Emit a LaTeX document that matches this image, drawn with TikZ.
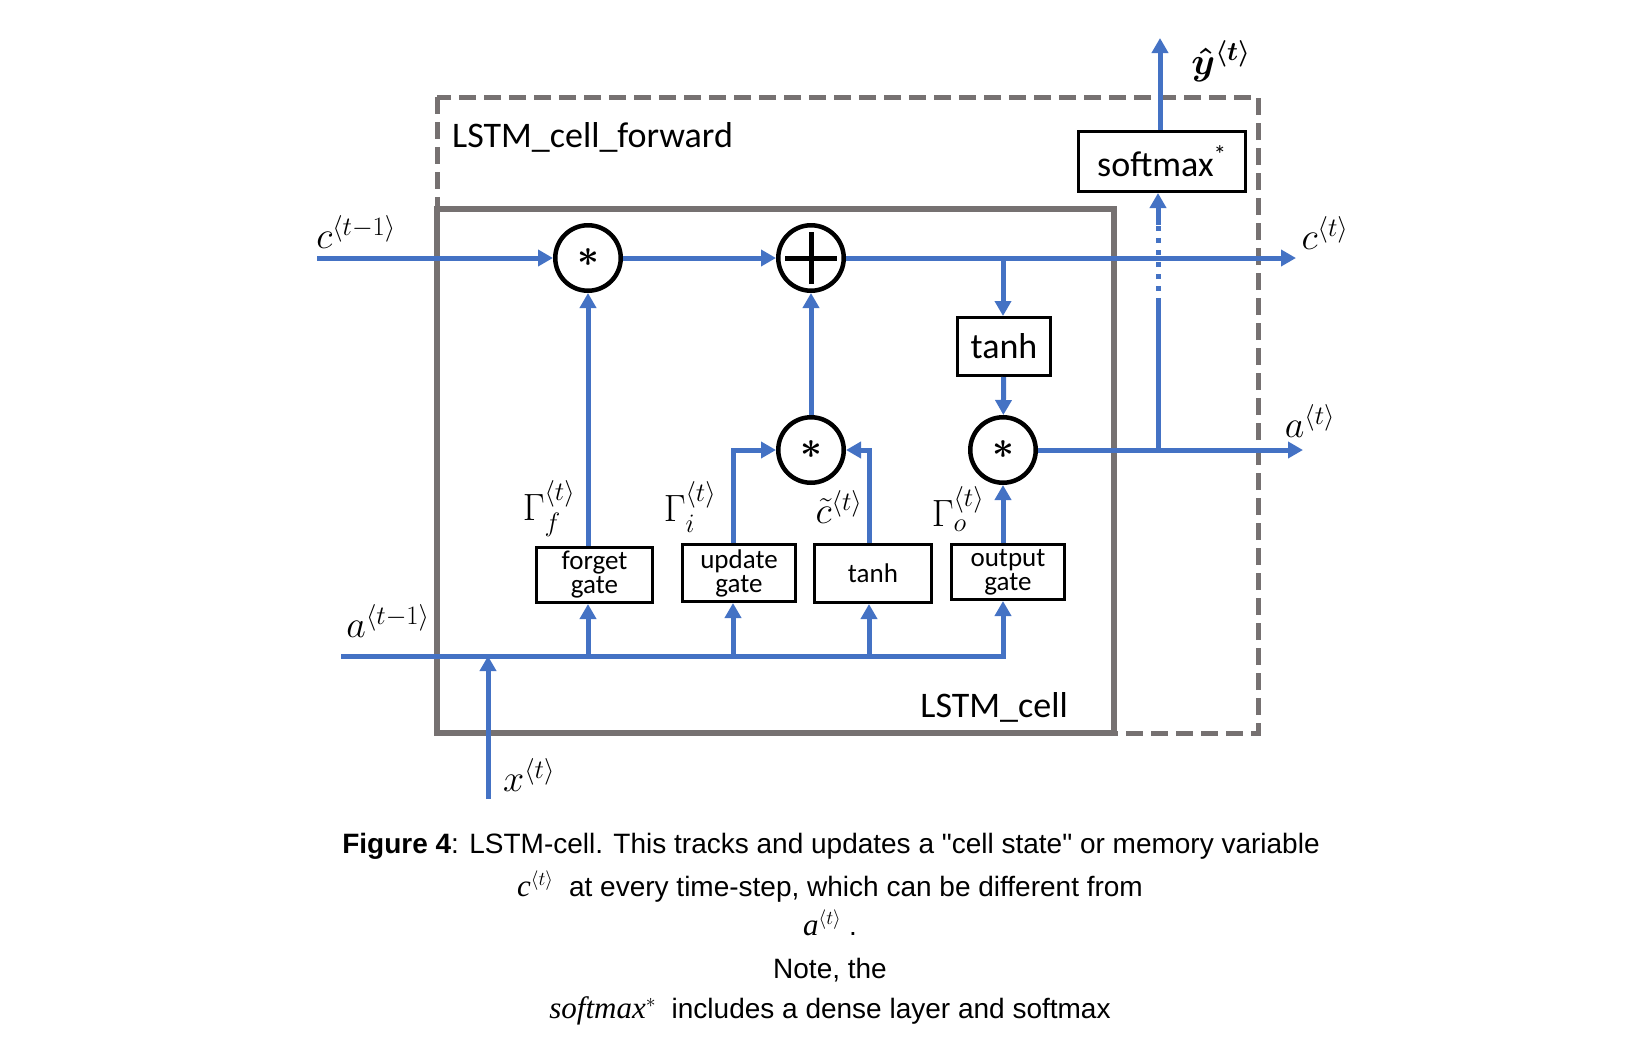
\RequirePackage{fix-cm}
\documentclass[tikz,border=0pt]{standalone}
\usepackage{amsmath,amssymb}
\usepackage{fontspec}
\setmainfont{Carlito}
\newfontfamily\capfont{Liberation Sans}
\newfontfamily\capserif{Liberation Serif}
\usetikzlibrary{arrows.meta}
\definecolor{lblue}{RGB}{68,114,196}
\definecolor{lgrey}{RGB}{118,113,113}
\begin{document}
\begin{tikzpicture}[x=1pt,y=-1pt,
  flow/.style={draw=lblue,line width=5pt},
  arr/.style={flow,-{Triangle[length=15pt,width=16pt]}},
  opc/.style={circle,draw=black,line width=4.5pt,fill=white,minimum size=65.5pt,inner sep=0pt,font=\fontsize{38}{38}\selectfont},
  gatebox/.style={draw=black,line width=3pt,fill=white,inner sep=0pt,align=center,font=\fontsize{27}{24}\selectfont},
  bigbox/.style={draw=black,line width=3pt,fill=white,inner sep=0pt,font=\fontsize{36}{40}\selectfont},
  lbl/.style={font=\fontsize{38}{40}\selectfont,inner sep=0pt},
  captext/.style={font=\capfont\fontsize{28}{32}\selectfont,inner sep=0pt,anchor=base}
]
\path[use as bounding box] (0,0) rectangle (1642,1050);

% frames
\draw[lgrey,line width=5pt,dash pattern=on 17pt off 8pt] (437,97) rectangle (1258,733);
\draw[lgrey,line width=5.5pt] (437,209) rectangle (1114,733);
\node[lbl,font=\fontsize{36}{40}\selectfont,anchor=base west] (tfwd) at (452,147) {LSTM\_cell\_forward};
\node[lbl,font=\fontsize{36}{40}\selectfont,anchor=base east] (tcell) at (1068,717) {LSTM\_cell};

% operators
\node[opc] (fmul) at (588,258) {$\boldsymbol{\ast}$};
\node[opc] (add) at (811,258) {};
\draw[line width=5pt] ([xshift=-26pt]add.center) -- ([xshift=26pt]add.center);
\draw[line width=5pt] ([yshift=-26pt]add.center) -- ([yshift=26pt]add.center);
\node[opc] (umul) at (811,450) {$\boldsymbol{\ast}$};
\node[opc] (omul) at (1003,450) {$\boldsymbol{\ast}$};

% boxes
\node[gatebox,minimum width=116pt,minimum height=55pt] (fg) at (594.5,575) {forget\\gate};
\node[gatebox,minimum width=113pt,minimum height=57pt] (ug) at (739,573) {update\\gate};
\node[gatebox,minimum width=117pt,minimum height=58pt] (tg) at (873,573.5) {tanh};
\node[gatebox,minimum width=113pt,minimum height=55pt] (og) at (1008,572) {output\\gate};
\node[bigbox,minimum width=93pt,minimum height=58pt] (tc) at (1004,346.5) {tanh};
\node[bigbox,minimum width=167pt,minimum height=60pt] (smx) at (1162,161.5) {softmax\textsuperscript{*}};

% coordinates
\coordinate (cin) at (317,258);
\coordinate (cout) at (1296,258);
\coordinate (cb) at (1003,258);
\coordinate (aout) at (1303,450);
\coordinate (sb) at (1158,450);
\coordinate (s1) at (1158,303);
\coordinate (s2) at (1158,225);
\coordinate (yout) at (1160,38);
\coordinate (ain) at (341,656);
\coordinate (aend) at (1003,656);
\coordinate (uv) at (733,656);
\coordinate (tv) at (869,656);
\coordinate (xin) at (488,799);

% cell state
\draw[arr] (cin) -- (fmul);
\draw[arr] (fmul) -- (add);
\draw[arr] (add) -- (cout);
\draw[arr] (cb) -- (cb |- tc.north);
\draw[arr] (tc) -- (omul);
\draw[arr] (umul) -- (add);
\draw[arr] (fg.north -| fmul) -- (fmul);
\draw[arr] (ug.north -| uv) |- (umul);
\draw[arr] (tg.north -| tv) |- (umul);
\draw[arr] (og.north -| omul) -- (omul);
\draw[arr] (omul) -- (aout);
\draw[flow] (sb) -- (s1);
\draw[flow,dash pattern=on 5pt off 7pt] (s1) -- (s2);
\draw[arr] (s2) -- (s2 |- smx.south);
\draw[arr] (smx.north -| yout) -- (yout);

% bottom a line
\draw[arr] (ain) -- (aend) -- (aend |- og.south);
\draw[arr] (fmul |- ain) -- (fmul |- fg.south);
\draw[arr] (uv) -- (uv |- ug.south);
\draw[arr] (tv) -- (tv |- tg.south);
\draw[arr] (xin) -- (xin |- ain);

% labels
\node[lbl] (lcp) at (356,232) {$c^{\langle t-1\rangle}$};
\node[lbl] (lct) at (1325,233) {$c^{\langle t\rangle}$};
\node[lbl] (lat) at (1310,421) {$a^{\langle t\rangle}$};
\node[lbl] (lap) at (388,621) {$a^{\langle t-1\rangle}$};
\node[lbl] (lx) at (529,775) {$x^{\langle t\rangle}$};
\node[lbl] (ly) at (1221,61) {$\boldsymbol{\hat{y}^{\langle t\rangle}}$};
\node[lbl] (lgf) at (549,509) {$\Gamma_f^{\langle t\rangle}$};
\node[lbl] (lgi) at (690,507) {$\Gamma_i^{\langle t\rangle}$};
\node[lbl] (lct2) at (839,507) {$\tilde{c}^{\langle t\rangle}$};
\node[lbl] (lgo) at (958,509) {$\Gamma_o^{\langle t\rangle}$};

% caption
\node[captext] (cap1) at (831,853) {\textbf{Figure 4}: LSTM-cell. This tracks and updates a "cell state" or memory variable};
\node[captext] (cap2) at (830,896) {{\capserif\itshape\fontsize{31}{32}\selectfont c}$^{\langle t\rangle}$\ \ at every time-step, which can be different from};
\node[captext] (cap3) at (830,935) {{\capserif\itshape\fontsize{31}{32}\selectfont a}$^{\langle t\rangle}$\ .};
\node[captext] (cap4) at (830,978) {Note, the};
\node[captext] (cap5) at (830,1018) {{\capserif\itshape\fontsize{31}{32}\selectfont softmax}$^{*}$\ \ includes a dense layer and softmax};
\end{tikzpicture}
\end{document}
